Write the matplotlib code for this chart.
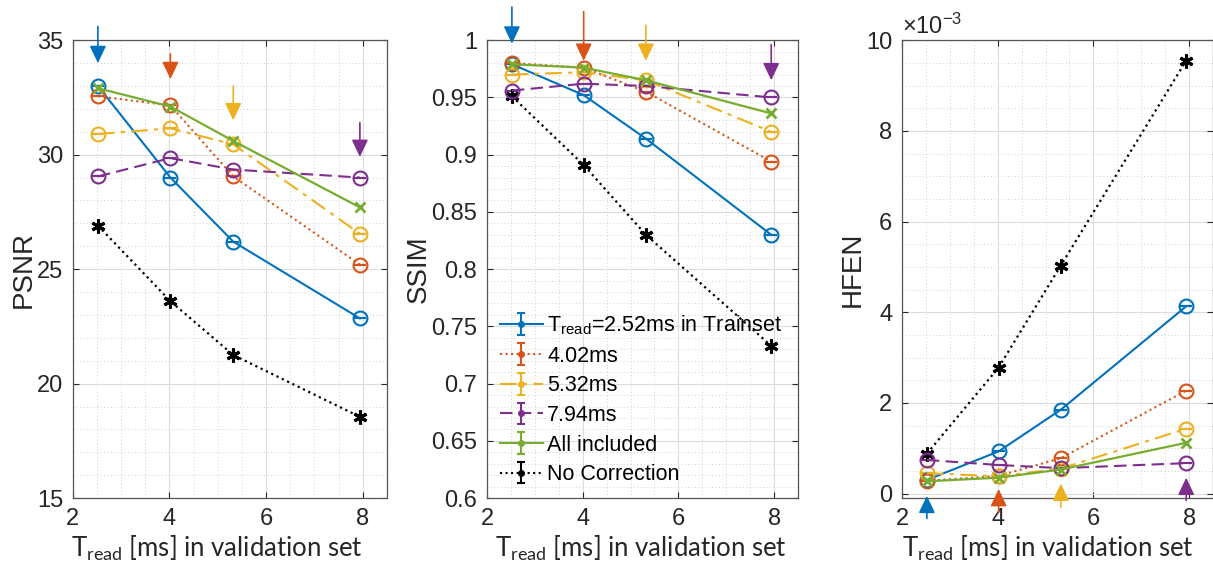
import numpy as np
import matplotlib
matplotlib.use("Agg")
import matplotlib.pyplot as plt
from matplotlib.ticker import MultipleLocator

plt.rcParams['font.family'] = ['Liberation Sans', 'DejaVu Sans']
plt.rcParams['mathtext.fontset'] = 'custom'
plt.rcParams['mathtext.rm'] = 'Liberation Sans'
plt.rcParams['mathtext.it'] = 'Liberation Sans:italic'

# validation read-out times [ms]
t_read = [2.52, 4.02, 5.32, 7.94]

labels = [r'T$_{\mathregular{read}}$=2.52ms in Trainset', '4.02ms', '5.32ms',
          '7.94ms', 'All included', 'No Correction']

psnr = {
    '2.52': [33.0, 29.0, 26.2, 22.85],
    '4.02': [32.55, 32.15, 29.05, 25.2],
    '5.32': [30.9, 31.15, 30.45, 26.55],
    '7.94': [29.05, 29.85, 29.35, 29.0],
    'all':  [32.9, 32.1, 30.6, 27.7],
    'none': [26.9, 23.6, 21.25, 18.55],
}
ssim = {
    '2.52': [0.979, 0.952, 0.914, 0.830],
    '4.02': [0.980, 0.976, 0.955, 0.894],
    '5.32': [0.970, 0.972, 0.965, 0.920],
    '7.94': [0.956, 0.962, 0.960, 0.950],
    'all':  [0.979, 0.976, 0.965, 0.936],
    'none': [0.951, 0.891, 0.830, 0.733],
}
# HFEN in units of 1e-3
hfen = {
    '2.52': [0.30, 0.93, 1.85, 4.13],
    '4.02': [0.28, 0.39, 0.78, 2.27],
    '5.32': [0.45, 0.38, 0.55, 1.43],
    '7.94': [0.74, 0.63, 0.56, 0.67],
    'all':  [0.27, 0.35, 0.53, 1.12],
    'none': [0.88, 2.78, 5.03, 9.55],
}

keys = ['2.52', '4.02', '5.32', '7.94', 'all', 'none']
colors = ['#0072BD', '#D95319', '#EDB120', '#7E2F8E', '#77AC30', '#000000']
styles = ['-', ':', (0, (8, 3, 2, 3)), (0, (6, 3)), '-', ':']
markers = ['o', 'o', 'o', 'o', 'x', (6, 2, 0)]

# arrows marking the training T_read: (tail y, tip y) per panel
arrow_psnr = [(35.6, 34.0), (34.4, 33.3), (33.0, 31.5), (31.4, 29.9)]
arrow_ssim = [(1.029, 0.997), (1.025, 0.982), (1.013, 0.982), (0.996, 0.965)]
arrow_hfen = [(-0.55, -0.05), (-0.42, 0.1), (-0.30, 0.22), (-0.15, 0.35)]

fig = plt.figure(figsize=(12.13, 5.66), dpi=100)
ax1 = fig.add_axes([0.060, 0.120, 0.259, 0.809])
ax2 = fig.add_axes([0.4015, 0.120, 0.2564, 0.809])
ax3 = fig.add_axes([0.7436, 0.120, 0.2564, 0.809])

grey = '#262626'
tick_fs = 17
label_fs = 20
xlab_fs = 18.5


def style_axes(ax, ylim, ymajor, yminor, xlab_pos):
    ax.set_xlim(2, 8.5)
    ax.set_ylim(*ylim)
    ax.xaxis.set_major_locator(MultipleLocator(2))
    ax.xaxis.set_minor_locator(MultipleLocator(0.5))
    ax.yaxis.set_major_locator(MultipleLocator(ymajor))
    ax.yaxis.set_minor_locator(MultipleLocator(yminor))
    ax.grid(which='major', color='#dcdcdc', lw=0.8)
    ax.grid(which='minor', color='#d0d0d0', lw=0.7, ls=(0, (1, 2.5)))
    ax.set_axisbelow(True)
    ax.tick_params(which='major', direction='in', length=4, top=True, right=True,
                   labelsize=tick_fs, colors=grey, pad=7, width=0.8)
    ax.tick_params(which='minor', length=0)
    for s in ax.spines.values():
        s.set_color('#555555')
        s.set_linewidth(0.9)
    ax.set_xlabel(r'T$_{\mathregular{read}}$ [ms] in validation set', fontsize=xlab_fs,
                  family=['Lato', 'DejaVu Sans'], color=grey)
    ax.xaxis.set_label_coords(xlab_pos, -0.077)
    ax.xaxis.label.set_va('top')


def draw(ax, data, arrows):
    for k, c, ls, m in zip(keys, colors, styles, markers):
        y = data[k]
        if m == 'o':
            ax.errorbar(t_read, y, yerr=np.zeros(len(y)), color=c, ls=ls, lw=1.5,
                        marker='o', ms=10, mfc='none', mew=1.5, capsize=4.5,
                        capthick=1.5, clip_on=False, zorder=3)
        elif m == 'x':
            ax.plot(t_read, y, color=c, ls=ls, lw=1.6, marker='x', ms=7, mew=2,
                    zorder=4)
        else:
            ax.plot(t_read, y, color=c, ls=ls, lw=1.6, marker=m, ms=10, mew=2.2,
                    zorder=3)
    for (tail, tip), xt, c in zip(arrows, t_read, colors):
        ax.annotate('', xy=(xt, tip), xytext=(xt, tail), annotation_clip=False,
                    arrowprops=dict(arrowstyle='-|>,head_width=0.5,head_length=1.05',
                                    color=c, lw=1.2, shrinkA=0, shrinkB=0,
                                    mutation_scale=10), zorder=5)


style_axes(ax1, (15, 35), 5, 1, 0.46)
draw(ax1, psnr, arrow_psnr)
ax1.set_ylabel('PSNR', fontsize=label_fs, color=grey, labelpad=0)

style_axes(ax2, (0.6, 1.0), 0.05, 0.01, 0.495)
draw(ax2, ssim, arrow_ssim)
ax2.set_ylabel('SSIM', fontsize=label_fs, color=grey, labelpad=0)
ax2.set_yticks(np.arange(0.6, 1.001, 0.05))
ax2.set_yticklabels(['0.6', '0.65', '0.7', '0.75', '0.8', '0.85', '0.9', '0.95', '1'])

style_axes(ax3, (-0.1, 10), 2, 0.5, 0.47)
draw(ax3, hfen, arrow_hfen)
ax3.set_ylabel('HFEN', fontsize=label_fs, color=grey, labelpad=0)
ax3.text(0.0, 1.003, r'$\times$10$^{\mathregular{-3}}$', transform=ax3.transAxes,
         fontsize=tick_fs, color=grey, ha='left', va='bottom')

# legend with errorbar-style handles
handles = []
for c, ls in zip(colors, styles):
    h = ax2.errorbar([np.nan], [np.nan], yerr=[np.nan], color=c, ls=ls, lw=1.5,
                     marker='o', ms=4, capsize=3, capthick=1.5, elinewidth=1.5)
    handles.append(h)
ax2.legend(handles, labels, loc='lower left', bbox_to_anchor=(0.0, 0.0),
           frameon=False, fontsize=15.5, handlelength=2.0, handletextpad=0.2,
           labelspacing=0.4, borderaxespad=0.2)

fig.savefig('out.png', dpi=100)
